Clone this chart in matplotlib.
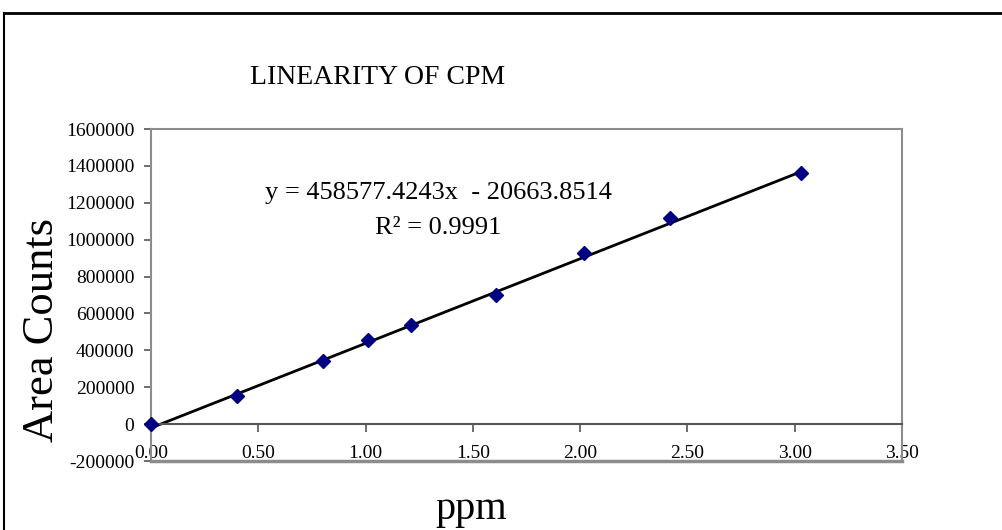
import numpy as np
from matplotlib import pyplot as plt
from matplotlib.lines import Line2D
from matplotlib.ticker import FormatStrFormatter

# concentracao (ppm) e area
ppm = [0.00, 0.40, 0.80, 1.01, 1.21, 1.61, 2.02, 2.42, 3.03]
area = [0, 152000, 343000, 455000, 538000, 701000, 927000, 1115000, 1360000]

slope = 458577.4243
intercept = -20663.8514
r2 = 0.9991

x_ticks = [0.0, 0.5, 1.0, 1.5, 2.0, 2.5, 3.0, 3.5]
y_ticks = list(range(-200000, 1600001, 200000))

plt.rcParams['font.family'] = 'Liberation Serif'

fig = plt.figure(figsize=(10.03, 5.30), dpi=100)
ax = fig.add_axes([151/1003, 1 - 461/530, (902 - 151)/1003, (461 - 129)/530])

x_fit = np.array([ppm[0], ppm[-1]])
ax.plot(x_fit, slope * x_fit + intercept, color='black', lw=2, zorder=2)
ax.plot(ppm, area, linestyle='none', marker='D', ms=7.5, color='#000080', zorder=3, clip_on=False)

ax.set_xlim(0, 3.5)
ax.set_ylim(-200000, 1600000)
ax.set_xticks(x_ticks)
ax.set_yticks(y_ticks)
ax.xaxis.set_major_formatter(FormatStrFormatter('%.2f'))
ax.yaxis.set_major_formatter(FormatStrFormatter('%d'))

gray = '#8c8c8c'
for s in ['left', 'top', 'right']:
    ax.spines[s].set_color(gray)
    ax.spines[s].set_linewidth(1.5)
ax.spines['bottom'].set_position(('data', 0))
ax.spines['bottom'].set_color('#555555')
ax.spines['bottom'].set_linewidth(1.5)
ax.axhline(-200000, color=gray, lw=2.5, clip_on=False, zorder=1)

ax.tick_params(axis='y', direction='out', length=5, width=1.2, color='#555555', labelsize=14, pad=7)
ax.tick_params(axis='x', direction='out', length=6, width=1.2, color='#555555', labelsize=14, pad=9)

fig.text(378/1003, 1 - 78/530, 'LINEARITY OF CPM', fontsize=20, ha='center', va='center')
fig.text(42/1003, 1 - 330/530, 'Area Counts', fontsize=32, rotation=90, ha='center', va='center')
fig.text(471/1003, 1 - 510/530, 'ppm', fontsize=29, ha='center', va='center')
fig.text(438/1003, 1 - 193/530, 'y = %.4fx  - %.4f' % (slope, -intercept), fontsize=19, ha='center', va='center')
fig.text(438/1003, 1 - 228/530, 'R² = %.4f' % r2, fontsize=19, ha='center', va='center')

# moldura
fig.add_artist(Line2D([4/1003, 1], [1 - 13/530, 1 - 13/530], color='black', lw=2, transform=fig.transFigure))
fig.add_artist(Line2D([4/1003, 4/1003], [0, 1 - 13/530], color='black', lw=1.5, transform=fig.transFigure))

plt.savefig('out.png', dpi=100)
